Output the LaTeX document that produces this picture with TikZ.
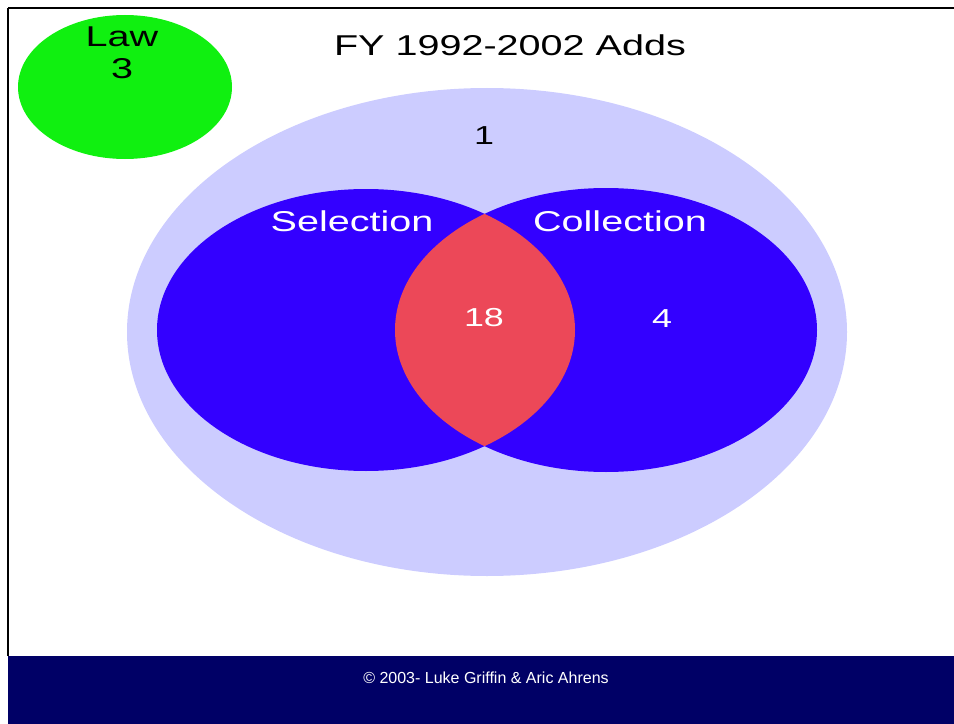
\documentclass[tikz,border=0pt]{standalone}
\usepackage{fontspec}
\setmainfont{Liberation Sans}
\newfontfamily\widesans[FakeStretch=1.38]{Liberation Sans}
\usepackage{tikz}

\definecolor{lawgreen}{RGB}{16,240,16}
\definecolor{lavender}{RGB}{204,204,255}
\definecolor{vennblue}{RGB}{51,0,255}
\definecolor{vennred}{RGB}{236,72,88}
\definecolor{footnavy}{RGB}{0,0,102}

\tikzset{
  bigtxt/.style={font=\widesans\fontsize{21.5pt}{25pt}\selectfont, inner sep=0pt},
  numtxt/.style={font=\widesans\fontsize{19.5pt}{23pt}\selectfont, inner sep=0pt},
}

\begin{document}
\begin{tikzpicture}[x=0.75pt, y=-0.75pt]
        % page frame, 954 x 724 px, origin top left
        \useasboundingbox (0,0) rectangle (954,724);
        % footer band
        \fill[footnavy] (8,656) rectangle (954,724);
        % frame lines: top and left
        \draw[line width=1.8pt] (8,8) -- (954,8);
        \draw[line width=1.8pt] (8,8) -- (8,656);
        % Law set
        \fill[lawgreen] (125,87) ellipse [x radius=107, y radius=72];
        % outer set
        \fill[lavender] (487,332) ellipse [x radius=360, y radius=244];
        % Selection and Collection
        \fill[vennblue] (366,330) ellipse [x radius=209, y radius=141];
        \fill[vennblue] (606,330) ellipse [x radius=211, y radius=142];
        % overlap
        \begin{scope}
          \clip (366,330) ellipse [x radius=209, y radius=141];
          \fill[vennred] (606,330) ellipse [x radius=211, y radius=142];
        \end{scope}
        % labels
        \node[bigtxt] (title) at (510,45) {FY 1992-2002 Adds};
        \node[bigtxt] (law) at (122,37) {Law};
        \node[bigtxt] (lawnum) at (122,69) {3};
        \node[numtxt] (outernum) at (484,136) {1};
        \node[bigtxt, white] (sel) at (352,221) {Selection};
        \node[bigtxt, white] (coll) at (620,221) {Collection};
        \node[numtxt, white] (both) at (484,318) {18};
        \node[numtxt, white] (collnum) at (662,319) {4};
        \node[white, font=\fontsize{12pt}{14pt}\selectfont, inner sep=0pt] (foot) at (486,678) {© 2003- Luke Griffin \& Aric Ahrens};
      \end{tikzpicture}
\end{document}
